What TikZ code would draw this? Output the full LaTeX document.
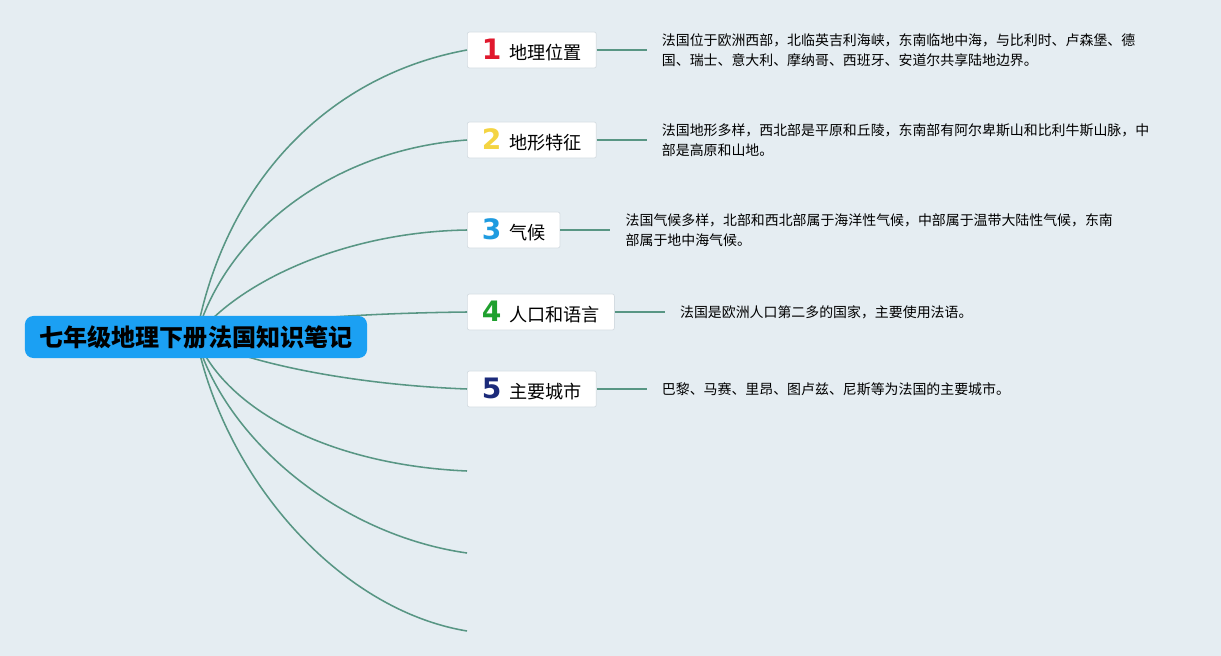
\documentclass[tikz,border=0pt]{standalone}
\usepackage{fontspec}
\setmainfont{Noto Sans CJK SC}
\newfontfamily\numfont{DejaVu Sans}
\usepackage{tikz}
\usetikzlibrary{positioning}

\begin{document}
\begin{tikzpicture}[x=0.025cm, y=0.025cm, every node/.style={font=\fontsize{12.9}{15}\selectfont}]
	% Define colors
	\definecolor{pagebg}{RGB}{229, 237, 242}
	\definecolor{rootfill}{RGB}{27, 160, 243}
	\definecolor{branchline}{RGB}{88, 150, 132}
	\definecolor{boxline}{RGB}{212, 220, 226}
	\definecolor{numone}{RGB}{224, 24, 45}
	\definecolor{numtwo}{RGB}{244, 212, 66}
	\definecolor{numthree}{RGB}{30, 155, 224}
	\definecolor{numfour}{RGB}{31, 160, 46}
	\definecolor{numfive}{RGB}{27, 42, 122}

	% Styles
	\tikzstyle{root_box} = [fill=rootfill, rounded corners=6pt, minimum width=8.55cm, minimum height=1.05cm, text=black, font=\fontsize{17.1}{20}\selectfont\bfseries]
	\tikzstyle{topic_box} = [fill=white, draw=boxline, line width=0.5pt, rounded corners=1.5pt, minimum height=0.9cm, inner xsep=0.36cm, anchor=west]
	\tikzstyle{note_text} = [align=left, anchor=west, inner xsep=0.375cm, font=\fontsize{9.9}{14.2}\selectfont]
	\tikzstyle{branch} = [draw=branchline, line width=1.1pt]

	% Topic number
	\def\topicnum#1#2{{\numfont\bfseries\fontsize{20}{20}\selectfont\color{#1}#2}\hspace{0.2cm}}

	% Page
	\useasboundingbox (0,0) rectangle (1221,-656);
	\fill[pagebg] (0,0) rectangle (1221,-656);

	% Topics
	\node[topic_box] (b1) at (467,-50) {\topicnum{numone}{1}地理位置};
	\node[topic_box] (b2) at (467,-140) {\topicnum{numtwo}{2}地形特征};
	\node[topic_box] (b3) at (467,-230) {\topicnum{numthree}{3}气候};
	\node[topic_box] (b4) at (467,-312) {\topicnum{numfour}{4}人口和语言};
	\node[topic_box] (b5) at (467,-389) {\topicnum{numfive}{5}主要城市};
	\coordinate (e6) at (467,-471);
	\coordinate (e7) at (467,-553);
	\coordinate (e8) at (467,-631);

	% Notes
	\node[note_text, right=1.25cm of b1] (d1) {法国位于欧洲西部，北临英吉利海峡，东南临地中海，与比利时、卢森堡、德\\国、瑞士、意大利、摩纳哥、西班牙、安道尔共享陆地边界。};
	\node[note_text, right=1.25cm of b2] (d2) {法国地形多样，西北部是平原和丘陵，东南部有阿尔卑斯山和比利牛斯山脉，中\\部是高原和山地。};
	\node[note_text, right=1.25cm of b3] (d3) {法国气候多样，北部和西北部属于海洋性气候，中部属于温带大陆性气候，东南\\部属于地中海气候。};
	\node[note_text, right=1.25cm of b4] (d4) {法国是欧洲人口第二多的国家，主要使用法语。};
	\node[note_text, right=1.25cm of b5] (d5) {巴黎、马赛、里昂、图卢兹、尼斯等为法国的主要城市。};

	\draw[branch] (b1.east) -- (d1.west);
	\draw[branch] (b2.east) -- (d2.west);
	\draw[branch] (b3.east) -- (d3.west);
	\draw[branch] (b4.east) -- (d4.west);
	\draw[branch] (b5.east) -- (d5.west);

	% Branches from the centre
	\coordinate (hub) at (196,-337);
	\draw[branch] (hub) .. controls +(29,157) and +(-137,-25) .. (b1.west);
	\draw[branch] (hub) .. controls +(29,102) and +(-137,-10) .. (b2.west);
	\draw[branch] (hub) .. controls +(39,52) and +(-127,-2) .. (b3.west);
	\draw[branch] (hub) .. controls +(64,19) and +(-87,-1) .. (b4.west);
	\draw[branch] (hub) .. controls +(54,-28) and +(-107,4) .. (b5.west);
	\draw[branch] (hub) .. controls +(29,-73) and +(-137,6) .. (e6);
	\draw[branch] (hub) .. controls +(29,-103) and +(-127,18) .. (e7);
	\draw[branch] (hub) .. controls +(29,-143) and +(-127,21) .. (e8);

	% Central topic
	\node[root_box] (root) at (196,-337) {七年级地理下册法国知识笔记};

\end{tikzpicture}
\end{document}
